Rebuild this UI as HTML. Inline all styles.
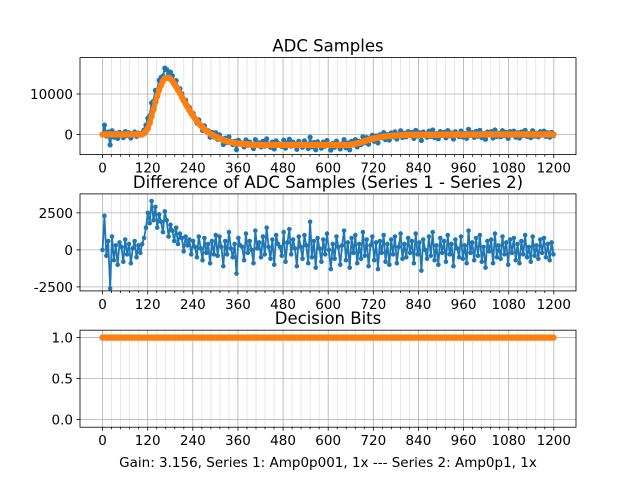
<!DOCTYPE html>
<html><head><meta charset="utf-8"><style>
body{margin:0;background:#fff}
svg{display:block;font-family:"DejaVu Sans","Liberation Sans",sans-serif}
</style></head><body>
<svg id="fig" width="640" height="480" viewBox="0 0 640 480"></svg>
<script>
// ---- data (sampled every 5 samples, spanning 0..1199) ----
const lastSample = 1199;
const series2 = [0,0,0,0,0,0,0,0,0,0,0,0,0,0,0,0,0,0,0,0,0,0,
300,800,1500,2800,4500,6200,8000,9500,11000,12200,13200,13800,14000,14000,13700,13200,12500,11800,11000,10200,9300,8400,7600,6800,6000,5300,4600,3900,3300,2700,2200,1700,1300,900,500,200,-100,-350,-600,-800,-1000,-1200,-1400,-1550,-1700,-1800,-1900,-2000,-2100,-2200,-2250,-2300,-2350,-2400,-2450,-2480,-2500,-2550,
-2600,-2600,-2600,-2600,-2600,-2600,-2600,-2600,-2600,-2600,-2600,-2600,-2600,-2600,-2600,-2600,-2600,-2600,-2600,-2600,-2600,-2600,-2600,-2600,-2600,-2600,
-2600,-2600,-2600,-2600,-2600,-2600,-2600,-2600,-2600,-2600,-2600,-2600,-2600,-2600,-2600,-2600,-2600,-2600,-2600,-2600,-2600,-2600,-2600,-2600,-2600,-2600,
-2500,-2400,-2300,-2200,-2100,-1950,-1800,-1650,-1500,-1350,-1200,-1100,-1000,-900,-800,-700,-600,-550,-500,-450,-400,-350,-300,-280,-250,-220,-200,-180,
-100,-100,-100,-100,-100,-100,-100,-100,-100,-100,-100,-100,-100,-100,-100,-100,-100,-100,-100,-100,
-50,-50,-50,-50,-50,-50,-50,-50,-50,-50,-50,-50,-50,-50,-50,-50,-50,-50,-50,-50,
0,0,0,0,0,0,0,0,0,0,0,0,0,0,0,0,0,0,0,0,0,0,0,0,0,0,0,0,0,0,0,0,0,0,0,0,0,0,0,0];
const diffValues = [0,2300,-400,600,-2600,900,-700,300,-1000,500,200,-800,700,-300,400,-900,100,600,-500,300,-200,400,
800,1500,2500,1800,3300,2000,2900,1500,2400,1900,1200,2600,2000,900,1700,1300,600,1500,400,1100,800,-100,900,300,700,-300,600,200,-500,900,100,-700,800,-200,400,-900,600,-300,1000,
-400,900,200,-1100,600,-300,1200,100,-500,400,-1600,800,300,200,-700,1100,-200,600,0,-900,1300,100,500,-500,900,-300,1500,200,-600,700,-1000,1000,400,200,-400,1200,-800,500,1400,-300,700,100,-1100,900,200,-600,1000,300,-900,1900,-500,600,-1200,800,100,-800,700,-300,1100,0,-1300,400,-600,900,200,-1000,300,1300,-700,500,-1200,800,-200,1000,-900,400,-600,1200,-400,700,-1100,300,900,-700,500,-1300,600,-200,1000,-800,400,-1000,700,-300,900,-900,200,1100,-600,400,
-500,800,-200,600,-900,1100,-300,500,-1400,700,0,-600,900,-400,1200,-700,300,-1000,800,-200,600,-800,1000,-300,400,-1100,700,100,-500,900,-600,300,-900,1300,-200,500,-700,800,-400,1000,-800,200,-1200,600,-100,700,-900,1100,-500,300,-600,900,-300,500,-1000,700,-200,800,-700,400,-900,600,-300,1000,-500,200,-800,900,-400,300,-600,700,-200,800,-500,400,-700,500,-300];
const decisionBits = new Array(240).fill(1);
const xTicks = [0,120,240,360,480,600,720,840,960,1080,1200];
const y1Ticks = [0,10000];
const y2Ticks = [-2500,0,2500];
const y3Ticks = [0.0,0.5,1.0];
const series1 = series2.map((v,i)=>v+(diffValues[i]||0));

const NS="http://www.w3.org/2000/svg";
const svg=document.getElementById('fig');
function el(tag,attrs,parent){const e=document.createElementNS(NS,tag);for(const k in attrs)e.setAttribute(k,attrs[k]);(parent||svg).appendChild(e);return e;}
const L=80,R=576,xmin=-60,xmax=1259;
const X=v=>L+(v-xmin)/(xmax-xmin)*(R-L);

function axes(name,top,bot,ymin,ymax,yTicks,fmt,title){
  const Y=v=>bot-(v-ymin)/(ymax-ymin)*(bot-top);
  const g=el('g',{});
  
  
  for(let v=0;v<=1200;v+=24){if(v%120)el('line',{x1:X(v),x2:X(v),y1:top,y2:bot,stroke:'#e0e0e0','stroke-width':0.8},g);}
  xTicks.forEach(v=>el('line',{x1:X(v),x2:X(v),y1:top,y2:bot,stroke:'#b0b0b0','stroke-width':0.8},g));
  yTicks.forEach(v=>el('line',{x1:L,x2:R,y1:Y(v),y2:Y(v),stroke:'#b0b0b0','stroke-width':0.8},g));
  const tl=el('g',{},g);
  
  
  for(let v=0;v<=1200;v+=24){el('line',{x1:X(v),x2:X(v),y1:bot,y2:bot+(v%120?2:3.5),stroke:'#000','stroke-width':0.8},g);}
  xTicks.forEach(v=>{const t=el('text',{x:X(v),y:bot+18,'text-anchor':'middle','font-size':13.5},tl);t.textContent=v;});
  const yl=el('g',{},g);
  
  
  yTicks.forEach(v=>{el('line',{x1:L-3.5,x2:L,y1:Y(v),y2:Y(v),stroke:'#000','stroke-width':0.8},g);
    const t=el('text',{x:L-7,y:Y(v)+5,'text-anchor':'end','font-size':13.5},yl);t.textContent=fmt(v);});
  const tt=el('text',{x:(L+R)/2,y:top-6,'text-anchor':'middle','font-size':16.5},g);
  
  
  tt.textContent=title;
  return {g,Y,top,bot};
}
function series(ax,vals,color,name,lw,r){
  const n=vals.length;
  const pts=vals.map((v,i)=>[X(i*lastSample/(n-1)),ax.Y(v)]);
  const s=el('g',{},ax.g);
  
  
  el('polyline',{points:pts.map(p=>p.join(',')).join(' '),fill:'none',stroke:color,'stroke-width':lw,'stroke-linejoin':'round'},s);
  pts.forEach(p=>el('circle',{cx:p[0],cy:p[1],r:r,fill:color},s));
}
function frame(ax){el('rect',{x:L,y:ax.top,width:R-L,height:ax.bot-ax.top,fill:'none',stroke:'#000','stroke-width':0.8},ax.g);}

const a1=axes('adc-samples-axes',57.6,154.6,-5000,19000,y1Ticks,v=>v,'ADC Samples');
series(a1,series1,'#1f77b4','series-1-line',2,2.6);
series(a1,series2,'#ff7f0e','series-2-line',5,3.2);
frame(a1);
const a2=axes('difference-axes',193.9,290.9,-2770,3780,y2Ticks,v=>v,'Difference of ADC Samples (Series 1 - Series 2)');
series(a2,diffValues,'#1f77b4','difference-line',1.8,2.3);
frame(a2);
const a3=axes('decision-bits-axes',330.2,427.2,-0.094,1.09,y3Ticks,v=>v.toFixed(1),'Decision Bits');
series(a3,decisionBits,'#ff7f0e','decision-bits-line',5,3.2);
frame(a3);
const xl=el('text',{x:(L+R)/2,y:467,'text-anchor':'middle','font-size':13.5});


xl.textContent='Gain: 3.156, Series 1: Amp0p001, 1x --- Series 2: Amp0p1, 1x';
</script>
</body></html>
